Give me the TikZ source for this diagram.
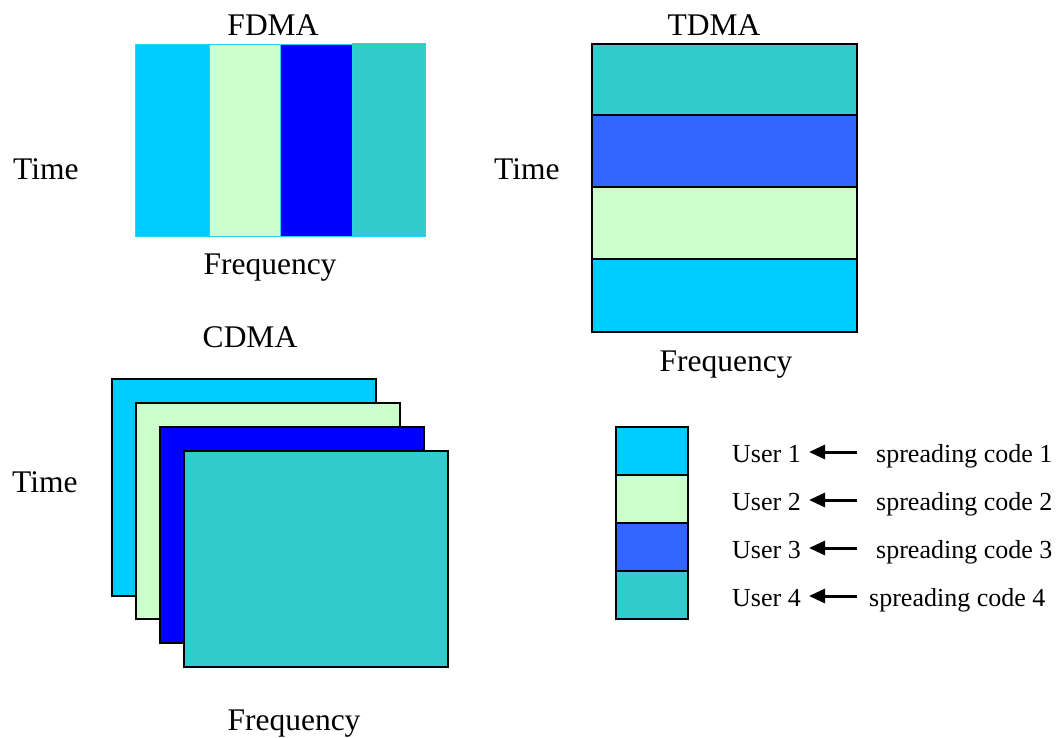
\documentclass[tikz,border=0pt]{standalone}
\usepackage{fontspec}
\setmainfont{Liberation Serif}
\usetikzlibrary{arrows.meta}

\definecolor{ucyan}{HTML}{00CCFF}
\definecolor{ugreen}{HTML}{CCFFCC}
\definecolor{ublue}{HTML}{0000FF}
\definecolor{uroyal}{HTML}{3366FF}
\definecolor{uteal}{HTML}{33CCCC}
\definecolor{fedge}{HTML}{22D4F4}

\tikzset{
  big/.style={inner sep=0pt, font=\fontsize{31.5}{36}\selectfont},
  small/.style={inner sep=0pt, font=\fontsize{26}{30}\selectfont},
  fband/.style={draw=fedge, line width=1pt},
  tband/.style={draw=black, line width=1.8pt},
  sheet/.style={draw=black, line width=1.8pt},
  pointer/.style={line width=3pt, -{Triangle[length=16pt,width=14pt]}}
}

\begin{document}
\begin{tikzpicture}[x=1pt, y=-1pt]
\useasboundingbox (0,0) rectangle (1058,737);

% ---- FDMA: frequency bands side by side ----
\filldraw[fband, fill=ucyan]  (135,44) rectangle (209,236);
\filldraw[fband, fill=ugreen] (209,44) rectangle (280,236);
\filldraw[fband, fill=ublue]  (280,44) rectangle (352,236);
\filldraw[fband, fill=uteal]  (352,43) rectangle (425,236);
\node[big, anchor=base] (fdma) at (273,35) {FDMA};
\node[big, anchor=base west] (ftime) at (13,179) {Time};
\node[big, anchor=base] (ffreq) at (270,274) {Frequency};

% ---- TDMA: time slots stacked ----
\filldraw[tband, fill=uteal]  (592,44)  rectangle (857,115);
\filldraw[tband, fill=uroyal] (592,115) rectangle (857,187);
\filldraw[tband, fill=ugreen] (592,187) rectangle (857,259);
\filldraw[tband, fill=ucyan]  (592,259) rectangle (857,332);
\node[big, anchor=base] (tdma) at (714,35) {TDMA};
\node[big, anchor=base west] (ttime) at (494,179) {Time};
\node[big, anchor=base] (tfreq) at (726,371) {Frequency};

% ---- CDMA: overlapping code sheets ----
\filldraw[sheet, fill=ucyan]  (112,379) rectangle (376,596);
\filldraw[sheet, fill=ugreen] (136,403) rectangle (400,619);
\filldraw[sheet, fill=ublue]  (160,427) rectangle (424,643);
\filldraw[sheet, fill=uteal]  (184,451) rectangle (448,667);
\node[big, anchor=base] (cdma) at (250,347) {CDMA};
\node[big, anchor=base west] (ctime) at (12,492) {Time};
\node[big, anchor=base] (cfreq) at (294,730) {Frequency};

% ---- legend ----
\filldraw[tband, fill=ucyan]  (616,427) rectangle (688,475);
\filldraw[tband, fill=ugreen] (616,475) rectangle (688,523);
\filldraw[tband, fill=uroyal] (616,523) rectangle (688,571);
\filldraw[tband, fill=uteal]  (616,571) rectangle (688,619);

\foreach \i/\yb/\cx in {1/462/876, 2/510/876, 3/558/876, 4/606/869}{
  \node[small, anchor=base west] (user\i) at (732,\yb) {User \i};
  \node[small, anchor=base west] (code\i) at (\cx,\yb) {spreading code \i};
  \coordinate (from\i) at (857,\yb-10);
  \coordinate (to\i) at (809,\yb-10);
  \draw[pointer] (from\i) -- (to\i);
}
\end{tikzpicture}
\end{document}
